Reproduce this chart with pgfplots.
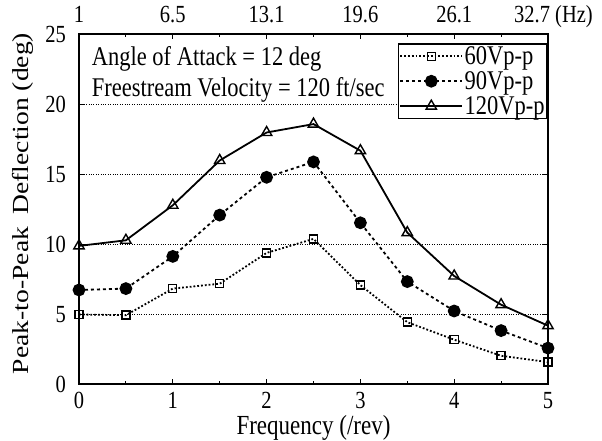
\documentclass[border=0pt]{standalone}
\usepackage{fontspec}
\setmainfont{Liberation Serif}
\usepackage{graphicx}
\usepackage{pgfplots}
\pgfplotsset{compat=1.18}
% the scanned figure is stretched vertically, so the text is too
\newcommand{\V}[1]{\scalebox{1}[1.2]{#1}}

\begin{document}
\begin{tikzpicture}
\pgfplotsset{
  legend image code/.code={%
    \draw[mark repeat=2,mark phase=2] plot coordinates {(0pt,0pt) (31pt,0pt) (62pt,0pt)};},
}
\begin{axis}[
  name=main,
  scale only axis,
  width=469pt, height=350pt,
  xmin=0, xmax=5, ymin=0, ymax=25,
  xtick={0,1,2,3,4,5},
  minor xtick={0.5,1.5,2.5,3.5,4.5},
  ytick={0,5,10,15,20,25},
  tick align=inside,
  major tick length=5pt, minor tick length=3pt,
  axis line style={line width=2pt},
  every tick/.style={line width=1.2pt, black},
  ymajorgrids,
  grid style={dotted, line width=1.5pt, black},
  /pgf/number format/assume math mode=true,
  xticklabel={\V{\pgfmathprintnumber{\tick}}},
  yticklabel={\V{\pgfmathprintnumber{\tick}}},
  tick label style={font=\fontsize{20.5}{24}\selectfont},
  xticklabel style={anchor=base, inner sep=0pt, yshift=-24pt},
  yticklabel style={anchor=east, inner sep=0pt, xshift=-13pt},
  xlabel={\V{Frequency (/rev)}},
  xlabel style={font=\fontsize{23}{26}\selectfont, anchor=base, inner sep=0pt,
    at={([yshift=-50pt]rel axis cs:0.5,0)}},
  ylabel={\scalebox{1.2}[1]{Peak-to-Peak\hspace{0.45em}Deflection (deg)}},
  ylabel style={font=\fontsize{23}{26}\selectfont, anchor=center, inner sep=0pt,
    at={([xshift=-56pt,yshift=6pt]rel axis cs:0,0.5)}},
  legend style={draw=black, line width=1.6pt, at={(1,0.975)}, anchor=north east,
    inner sep=1pt, row sep=2.5pt,
    nodes={inner sep=1.5pt, line width=0.4pt, font=\fontsize{22.5}{26}\selectfont}},
  legend cell align=left,
]
\addplot[black, line width=1.8pt, dotted, mark=square, mark size=4pt,
  mark options={solid, fill=white, line width=1.4pt}] coordinates {
  (0,5.0) (0.5,4.95) (1,6.85) (1.5,7.2) (2,9.4) (2.5,10.4)
  (3,7.1) (3.5,4.45) (4,3.2) (4.5,2.05) (5,1.6)
};
\addlegendentry{\V{60Vp-p}}
\addplot[black, line width=1.8pt, dashed, mark=*, mark size=5.5pt,
  mark options={solid}] coordinates {
  (0,6.75) (0.5,6.85) (1,9.15) (1.5,12.1) (2,14.8) (2.5,15.9)
  (3,11.55) (3.5,7.35) (4,5.25) (4.5,3.85) (5,2.6)
};
\addlegendentry{\V{90Vp-p}}
\addplot[black, line width=1.8pt, solid, mark=triangle, mark size=6pt,
  mark options={solid, fill=white, line width=1.4pt}] coordinates {
  (0,9.9) (0.5,10.3) (1,12.8) (1.5,16.0) (2,18.0) (2.5,18.6)
  (3,16.7) (3.5,10.85) (4,7.75) (4.5,5.7) (5,4.2)
};
\addlegendentry{\V{120Vp-p}}
\node[anchor=base west, inner sep=0pt, font=\fontsize{22.5}{26}\selectfont]
  at (axis cs:0.135,22.75) {\V{Angle of Attack = 12 deg}};
\node[anchor=base west, inner sep=0pt, font=\fontsize{22.5}{26}\selectfont]
  at (axis cs:0.135,20.54) {\V{Freestream Velocity = 120 ft/sec}};
\end{axis}
\begin{axis}[
  scale only axis,
  width=469pt, height=350pt,
  xmin=0, xmax=5, ymin=0, ymax=25,
  axis x line*=top,
  axis y line=none,
  axis line style={line width=2pt},
  xtick={0,1,2,3,4,5},
  xticklabels={\V{1},\V{6.5},\V{13.1},\V{19.6},\V{26.1},{}},
  tick label style={font=\fontsize{20.5}{24}\selectfont},
  xticklabel style={anchor=base, inner sep=0pt, yshift=11.5pt},
  tick align=inside,
  major tick length=5pt,
  every tick/.style={line width=1.2pt, black},
]
\end{axis}
\node[anchor=base east, inner sep=0pt, font=\fontsize{20.5}{24}\selectfont]
  at ([xshift=45pt, yshift=11.5pt]main.north east) {\V{32.7 (Hz)}};
\pgfresetboundingbox
\path (main.south west) ++(-79pt,-56.5pt) rectangle ++(602pt,441pt);
\end{tikzpicture}
\end{document}
